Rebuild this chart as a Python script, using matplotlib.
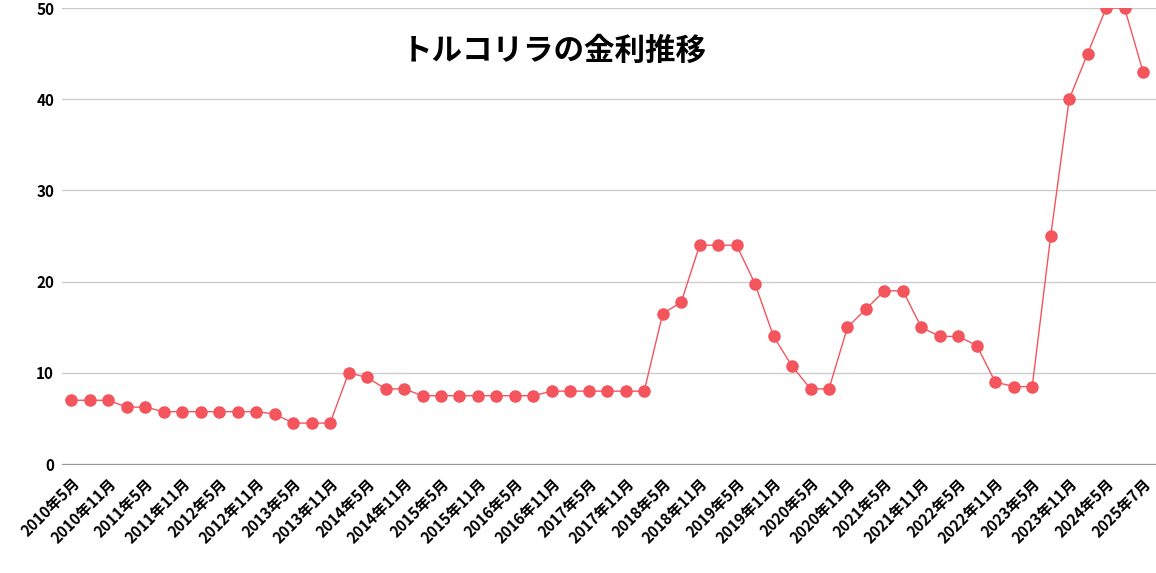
import matplotlib
matplotlib.use("Agg")
import matplotlib.pyplot as plt

plt.rcParams["font.family"] = "Noto Sans CJK JP"

# categories (quarterly; every other labelled)
categories = []
for k in range(59):
    m = 5 + 3 * k
    y = 2010 + (m - 1) // 12
    mm = (m - 1) % 12 + 1
    categories.append(f"{y}年{mm}月")
categories[58] = "2025年7月"

rates = [7, 7, 7, 6.25, 6.25, 5.75, 5.75, 5.75, 5.75, 5.75, 5.75, 5.5, 4.5, 4.5, 4.5,
         10, 9.5, 8.25, 8.25, 7.5, 7.5, 7.5, 7.5, 7.5, 7.5, 7.5, 8, 8, 8, 8, 8, 8,
         16.5, 17.75, 24, 24, 24, 19.75, 14, 10.75, 8.25, 8.25, 15, 17, 19, 19,
         15, 14, 14, 13, 9, 8.5, 8.5, 25, 40, 45, 50, 50, 43]
yticks = [0, 10, 20, 30, 40, 50]
title = "トルコリラの金利推移"

fig = plt.figure(figsize=(11.56, 5.73), dpi=100)
ax = fig.add_axes([0.054, 0.19, 0.946, 0.796])
x = list(range(len(rates)))
color = "#f4545c"
ax.plot(x, rates, color=color, lw=1, marker="o", ms=8, zorder=3)
ax.set_xlim(-0.49, 58.7)
ax.set_ylim(0, 50)
ax.set_yticks(yticks)
ax.set_yticklabels([str(t) for t in yticks], fontsize=11, fontweight="bold")
ax.set_xticks(x[::2])
ax.set_xticklabels(categories[::2], rotation=45, ha="right", rotation_mode="anchor",
                   fontsize=11, fontweight="bold")
ax.grid(axis="y", color="#cccccc", lw=1)
ax.set_axisbelow(True)
for s in ["top", "right", "left"]:
    ax.spines[s].set_visible(False)
ax.spines["bottom"].set_color("#999999")
ax.tick_params(axis="both", length=0, pad=6)
ax.tick_params(axis="x", pad=8)
ax.text(0.45, 0.905, title, transform=ax.transAxes, fontsize=22, fontweight="bold",
        ha="center", va="center")
fig.savefig("out.png", dpi=100)
